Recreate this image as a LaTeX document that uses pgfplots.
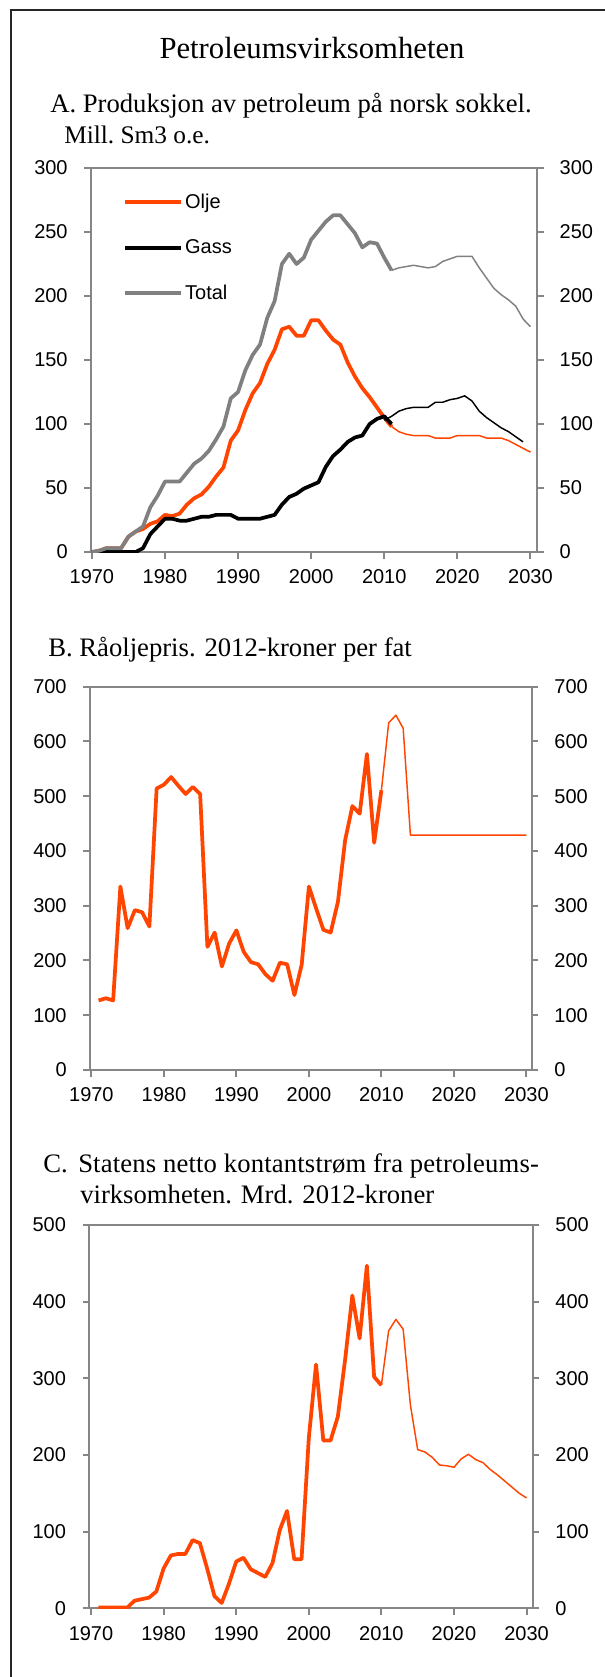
\documentclass[border=0pt]{standalone}
\usepackage{fontspec}
\setmainfont{Liberation Serif}
\newfontfamily\arial{Liberation Sans}
\usepackage{pgfplots}
\pgfplotsset{compat=1.18}
\definecolor{olje}{RGB}{255,69,0}
\definecolor{total}{RGB}{128,128,128}
\definecolor{axgray}{RGB}{134,134,134}
\newcommand{\tickfont}{\arial\fontsize{15}{18}\selectfont}
\newcommand{\subfont}{\fontsize{20}{24}\selectfont}
\pgfplotsset{
  panel/.style={
    scale only axis, anchor=north west,
    axis line style={draw=axgray, line width=1.5pt},
    tick style={draw=axgray, line width=1.5pt},
    tick align=outside, major tick length=5pt,
    xtick={1970,1980,1990,2000,2010,2020,2030},
    xticklabels={1970,1980,1990,2000,2010,2020,2030},
    xtick pos=left, ytick pos=left,
    tick label style={font=\tickfont},
    xticklabel style={yshift=-4.8pt},
    yticklabel style={xshift=-9pt},
    /pgf/number format/assume math mode=true,
  },
  rightlab/.style={
    scale only axis, anchor=north west,
    xtick=\empty, ytick pos=right, yticklabel pos=right,
    axis line style={draw=none},
    tick style={draw=axgray, line width=1.5pt},
    tick align=outside, major tick length=5pt,
    tick label style={font=\tickfont},
    yticklabel style={xshift=8.5pt},
    /pgf/number format/assume math mode=true,
  },
  hist/.style={line width=2.8pt, line join=round, mark=none},
  proj/.style={line width=1.1pt, line join=round, mark=none},
}
\begin{document}
\begin{tikzpicture}
\path[use as bounding box] (0pt,0pt) rectangle (453.75pt,-1257.75pt);
\begin{scope}[x=0.75pt,y=0.75pt]
\draw[line width=1.5pt, black!85] (11,-1700) -- (11,-10) -- (620,-10);
\node[anchor=base, inner sep=0] at (312,-59) {\fontsize{23}{27}\selectfont Petroleumsvirksomheten};
\node[anchor=base west, inner sep=0] at (50,-113) {\subfont A. Produksjon av petroleum på norsk sokkel.};
\node[anchor=base west, inner sep=0] at (64,-143) {\fontsize{19}{23}\selectfont Mill.\ Sm3 o.e.};
\node[anchor=base west, inner sep=0] at (48,-656) {\subfont B. Råoljepris. 2012-kroner per fat};
\node[anchor=base west, inner sep=0] at (43,-1172) {\subfont C.};
\node[anchor=base west, inner sep=0] at (78,-1172) {\subfont\addfontfeature{LetterSpace=0.6} Statens netto kontantstrøm fra petroleums-};
\node[anchor=base west, inner sep=0] at (80,-1203) {\subfont virksomheten. Mrd. 2012-kroner};
\end{scope}

% ---------- Panel A ----------
\begin{axis}[panel, at={(68.25pt,-126pt)}, width=334.5pt, height=288pt,
  xmin=1969.88, xmax=2030.9, ymin=0, ymax=300, ytick={0,50,...,300},
  legend style={at={(0.072,0.94)}, anchor=north west, draw=none, fill=none,
    font=\tickfont, row sep=18pt, inner sep=0pt, cells={anchor=west}},
  legend image code/.code={\draw[#1] (0pt,0pt) -- (39pt,0pt); \path (0pt,0pt) -- (41.5pt,0pt);}]
\addplot[hist, olje] coordinates {(1970,0)(1971,1)(1972,3)(1973,3)(1974,3)(1975,12)(1976,16)(1977,18)(1978,22)(1979,24)(1980,29)(1981,28)(1982,30)(1983,37)(1984,42)(1985,45)(1986,51)(1987,59)(1988,66)(1989,87)(1990,95)(1991,111)(1992,124)(1993,132)(1994,147)(1995,158)(1996,174)(1997,176)(1998,169)(1999,169)(2000,181)(2001,181)(2002,173)(2003,166)(2004,162)(2005,148)(2006,137)(2007,128)(2008,121)(2009,113)(2010,105)(2011,98)};
\addlegendentry{Olje}
\addplot[hist, black] coordinates {(1970,0)(1971,0)(1972,0)(1973,0)(1974,0)(1975,0)(1976,0)(1977,3)(1978,14)(1979,20)(1980,26)(1981,26)(1982,24.5)(1983,24.5)(1984,26)(1985,27.5)(1986,27.5)(1987,29)(1988,29)(1989,29)(1990,26)(1991,26)(1992,26)(1993,26)(1994,27.5)(1995,29)(1996,37)(1997,43)(1998,45.5)(1999,49.5)(2000,52)(2001,54.5)(2002,66.5)(2003,75)(2004,80)(2005,86)(2006,89.5)(2007,91)(2008,100)(2009,104)(2010,106)(2011,100)};
\addlegendentry{Gass}
\addplot[hist, total] coordinates {(1970,0)(1971,1)(1972,3)(1973,3)(1974,3)(1975,12)(1976,16)(1977,20)(1978,35)(1979,44)(1980,55)(1981,55)(1982,55)(1983,62)(1984,69)(1985,73)(1986,79)(1987,88)(1988,98)(1989,120)(1990,125)(1991,142)(1992,154)(1993,162)(1994,183)(1995,196)(1996,225)(1997,233)(1998,225)(1999,230)(2000,244)(2001,251)(2002,258)(2003,263)(2004,263)(2005,256)(2006,249)(2007,238)(2008,242)(2009,241)(2010,230)(2011,220)};
\addlegendentry{Total}
\addplot[proj, olje, forget plot] coordinates {(2011,98)(2012,94)(2013,92)(2014,91)(2015,91)(2016,91)(2017,89)(2018,89)(2019,89)(2020,91)(2021,91)(2022,91)(2023,91)(2024,89)(2025,89)(2026,89)(2027,87)(2028,84)(2029,81)(2030,78)};
\addplot[proj, black, forget plot] coordinates {(2010,103)(2011,106)(2012,110)(2013,112)(2014,113)(2015,113)(2016,113)(2017,117)(2018,117)(2019,119)(2020,120)(2021,122)(2022,118)(2023,110)(2024,105)(2025,101)(2026,97)(2027,94)(2028,90)(2029,86)};
\addplot[proj, total, forget plot] coordinates {(2011,220)(2012,222)(2013,223)(2014,224)(2015,223)(2016,222)(2017,223)(2018,227)(2019,229)(2020,231)(2021,231)(2022,231)(2023,222)(2024,214)(2025,206)(2026,201)(2027,197)(2028,192)(2029,182)(2030,176)};
\end{axis}
\begin{axis}[rightlab, at={(68.25pt,-126pt)}, width=334.5pt, height=288pt,
  xmin=1969.88, xmax=2030.9, ymin=0, ymax=300, ytick={0,50,...,300}]
\end{axis}

% ---------- Panel B ----------
\begin{axis}[panel, at={(67.5pt,-515pt)}, width=331.3pt, height=287.5pt,
  xmin=1969.81, xmax=2030.73, ymin=0, ymax=700, ytick={0,100,...,700}]
\addplot[hist, olje] coordinates {(1971,127)(1972,131)(1973,127)(1974,335)(1975,259)(1976,292)(1977,288)(1978,262)(1979,514)(1980,521)(1981,535)(1982,519)(1983,504)(1984,517)(1985,504)(1986,225)(1987,251)(1988,189)(1989,231)(1990,255)(1991,216)(1992,197)(1993,193)(1994,175)(1995,163)(1996,196)(1997,193)(1998,137)(1999,192)(2000,335)(2001,295)(2002,256)(2003,251)(2004,307)(2005,420)(2006,482)(2007,468)(2008,577)(2009,415)(2010,511)};
\addplot[proj, olje] coordinates {(2010,511)(2011,634)(2012,648)(2013,624)(2014,429)(2015,429)(2016,429)(2017,429)(2018,429)(2019,429)(2020,429)(2021,429)(2022,429)(2023,429)(2024,429)(2025,429)(2026,429)(2027,429)(2028,429)(2029,429)(2030,429)};
\end{axis}
\begin{axis}[rightlab, at={(67.5pt,-515pt)}, width=331.3pt, height=287.5pt,
  xmin=1969.81, xmax=2030.73, ymin=0, ymax=700, ytick={0,100,...,700}]
\end{axis}

% ---------- Panel C ----------
\begin{axis}[panel, at={(67pt,-918.75pt)}, width=332.5pt, height=287.5pt,
  xmin=1969.77, xmax=2030.84, ymin=0, ymax=500, ytick={0,100,...,500}]
\addplot[hist, olje] coordinates {(1971,1)(1972,1)(1973,1)(1974,1)(1975,1)(1976,10)(1977,12)(1978,14)(1979,22)(1980,52)(1981,69)(1982,71)(1983,71)(1984,89)(1985,85)(1986,52)(1987,16)(1988,7)(1989,32)(1990,61)(1991,66)(1992,51)(1993,46)(1994,41)(1995,59)(1996,102)(1997,127)(1998,64)(1999,64)(2000,222)(2001,318)(2002,219)(2003,219)(2004,250)(2005,324)(2006,408)(2007,352)(2008,447)(2009,302)(2010,291)};
\addplot[proj, olje] coordinates {(2010,291)(2011,362)(2012,377)(2013,364)(2014,265)(2015,207)(2016,204)(2017,197)(2018,187)(2019,186)(2020,184)(2021,195)(2022,201)(2023,194)(2024,190)(2025,181)(2026,174)(2027,166)(2028,158)(2029,150)(2030,144)};
\end{axis}
\begin{axis}[rightlab, at={(67pt,-918.75pt)}, width=332.5pt, height=287.5pt,
  xmin=1969.77, xmax=2030.84, ymin=0, ymax=500, ytick={0,100,...,500}]
\end{axis}
\end{tikzpicture}
\end{document}
